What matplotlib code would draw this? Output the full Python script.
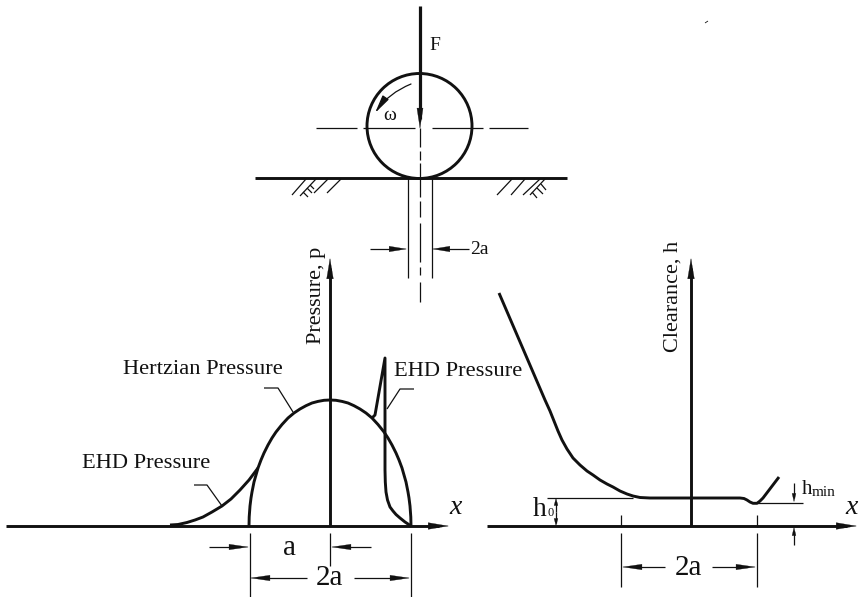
import matplotlib
matplotlib.use("Agg")
import matplotlib.pyplot as plt
from matplotlib.patches import Circle

plt.rcParams['font.family'] = ['Liberation Serif', 'DejaVu Serif']
INK = '#111111'

# hertzian pressure
hertz_x = [249, 249.2, 250, 251, 252, 254, 256, 258, 261, 264, 268, 272, 276, 282, 288, 294, 300, 306,
           312, 318, 324, 330, 336, 342, 348, 354, 360, 366, 372, 378, 384, 388, 392, 396, 399, 402,
           404, 406, 408, 409, 410, 410.8, 411]
hertz_y = [526, 517, 506, 498, 492, 482, 475, 468, 460, 453, 445, 438, 432, 424.5, 418, 413, 409, 405.7,
           403, 401.4, 400.3, 400, 400.3, 401.4, 403, 405.7, 409, 413, 418, 424.5, 432, 438, 445, 453,
           460, 468, 475, 482, 492, 498, 506, 517, 526]

# ehd pressure, inlet side and outlet spike
ehd_in_x = [170, 178, 187, 195, 203, 212, 222, 231, 240, 249, 258]
ehd_in_y = [525, 524.5, 522.5, 520, 517, 512, 506, 499, 490, 480, 468]
ehd_out_x = [372, 375, 385, 385, 385, 385.3, 386, 387.5, 390, 393, 396, 400, 405, 411]
ehd_out_y = [418, 415, 358, 420, 470, 482, 492, 500, 507, 511, 514.5, 518, 522, 526]

# film clearance on the right plot
clear_x = [499, 545, 550, 554, 558, 562, 567, 573, 580, 587, 593, 600, 607, 613, 620, 627, 633, 640, 650,
           691, 740, 744, 747, 750, 753, 757, 760, 763, 779]
clear_y = [293, 400, 411, 421, 431, 440, 449, 458, 465, 471, 475, 480, 484, 487, 491, 494, 496, 497.5, 498,
           498, 498, 498.5, 500, 502, 503.3, 503.3, 501, 498, 477]

labels = ['Hertzian Pressure', 'EHD Pressure', 'EHD Pressure']
label_x = [123, 82, 394]
label_y = [369, 463, 371]

leaders = [([264, 278, 293], [388, 388, 412]),
           ([194, 207, 222], [485, 485, 506]),
           ([414, 400, 387], [389, 389, 409])]

# ground hatching
hatch_left = [(292, 195, 306, 179), (300, 196, 316, 179), (314, 193, 328, 179), (327, 193, 341, 179),
              (303, 192, 308, 197), (307, 188, 312, 193), (310, 185, 314, 189)]
hatch_right = [(497, 195, 512, 179), (511, 195, 525, 179), (523, 195, 540, 179), (530, 195, 545, 179),
               (532, 192, 537, 198), (537, 188, 543, 194), (541, 184, 546, 190)]

centre_dashes = [(128, 147), (151, 160), (163, 197), (201, 217), (223, 262), (267, 275), (282, 302)]
cross_dashes = [(316, 357), (363, 415), (432, 483), (489, 528)]

fig = plt.figure(figsize=(8.59, 5.97), dpi=100)
ax = fig.add_axes([0, 0, 1, 1])
ax.set_xlim(0, 859)
ax.set_ylim(597, 0)
ax.axis('off')


def thin(xs, ys, lw=0.9):
    ax.plot(xs, ys, color=INK, lw=lw, solid_capstyle='butt')


def thick(xs, ys, lw=2.1):
    ax.plot(xs, ys, color=INK, lw=lw, solid_joinstyle='round', solid_capstyle='butt')


def arrow(x0, y0, x1, y1, lw=0.9, length=19, half=0.2):
    # shaft first, then a thin-edged head so the tip lands on the end point
    d = ((x1 - x0) ** 2 + (y1 - y0) ** 2) ** 0.5
    ux, uy = (x1 - x0) / d, (y1 - y0) / d
    thin([x0, x1 - ux * length * 0.5], [y0, y1 - uy * length * 0.5], lw=lw)
    ax.annotate('', xy=(x1, y1), xytext=(x1 - ux * length, y1 - uy * length),
                arrowprops=dict(arrowstyle=f'-|>,head_length={length * 0.072},head_width={half}',
                                mutation_scale=10, lw=0.2, color=INK, shrinkA=0, shrinkB=0))


# top sketch: ball on a plane
ax.add_patch(Circle((419.5, 126), 52.5, fill=False, ec=INK, lw=2.1))
thick([255, 567], [178, 178])
arrow(420, 6, 420, 129, lw=2.3, length=20, half=0.22)
ax.annotate('', xy=(375, 113), xytext=(411, 84),
            arrowprops=dict(arrowstyle='-|>,head_length=1.1,head_width=0.22', mutation_scale=10, lw=0.9,
                            color=INK, shrinkA=0, shrinkB=0, connectionstyle='arc3,rad=0.15'))
for x0, x1 in cross_dashes:
    thin([x0, x1], [127.5, 127.5])
for y0, y1 in centre_dashes:
    thin([419.5, 419.5], [y0, y1])
for x in [407.5, 431.5]:
    thin([x, x], [178, 278])
for x0, y0, x1, y1 in hatch_left + hatch_right:
    thin([x0, x1], [y0, y1])
arrow(370, 249, 407, 249, length=17)
arrow(469, 249, 432, 249, length=17)
ax.text(470, 249, '2a', fontsize=14, va='center', color=INK)
ax.text(429, 45, 'F', fontsize=14, va='center', color=INK)
ax.text(390, 115, 'ω', fontsize=14, ha='center', va='center', color=INK)
thin([705, 708], [23, 21], lw=0.6)

# left plot: pressure
arrow(6, 526, 449, 526, lw=2.1, length=20, half=0.24)
arrow(330, 526, 330, 258, lw=2.1, length=20, half=0.24)
thick(hertz_x, hertz_y)
thick(ehd_in_x, ehd_in_y)
thick(ehd_out_x, ehd_out_y)
for xs, ys in leaders:
    thin(xs, ys)
for t, x, y in zip(labels, label_x, label_y):
    ax.text(x, y, t, fontsize=16.2, va='center', color=INK)
ax.text(317, 295, 'Pressure, p', fontsize=16, rotation=90, ha='center', va='center', color=INK)
ax.text(456, 508, 'x', fontsize=20, style='italic', ha='center', va='center', color=INK)

thin([249.5, 249.5], [533, 597])
thin([330, 330], [533, 566])
thin([411, 411], [533, 597])
arrow(209, 547, 249, 547)
arrow(371, 547, 331, 547)
arrow(307, 578, 250, 578)
arrow(354, 578, 410, 578)
ax.text(289, 548, 'a', fontsize=21, ha='center', va='center', color=INK)
ax.text(329.5, 578, '2a', fontsize=21, ha='center', va='center', color=INK)

# right plot: clearance
arrow(487, 526, 857, 526, lw=2.1, length=20, half=0.24)
arrow(691, 526, 691, 258, lw=2.1, length=20, half=0.24)
thick(clear_x, clear_y)
ax.text(673, 296.5, 'Clearance, h', fontsize=16, rotation=90, ha='center', va='center', color=INK)
ax.text(852, 508, 'x', fontsize=20, style='italic', ha='center', va='center', color=INK)

thin([547, 633], [498, 498])
thin([757, 803], [503, 503])
arrow(556, 512, 556, 498, length=7, half=0.14)
arrow(556, 512, 556, 526, length=7, half=0.14)
arrow(794, 483, 794, 502, length=8, half=0.14)
arrow(794, 545, 794, 527, length=8, half=0.14)
ax.text(533, 510, 'h', fontsize=20, va='center', color=INK)
ax.text(547, 513, '0', fontsize=9, va='center', color=INK)
ax.text(802, 489, 'h', fontsize=15, va='center', color=INK)
ax.text(812, 492, 'min', fontsize=11, va='center', color=INK)

for x in [621, 757]:
    thin([x, x], [515, 527])
    thin([x, x], [533, 587])
arrow(665, 567, 622, 567)
arrow(712, 567, 756, 567)
ax.text(688, 568, '2a', fontsize=21, ha='center', va='center', color=INK)

fig.savefig('out.png', dpi=100)
